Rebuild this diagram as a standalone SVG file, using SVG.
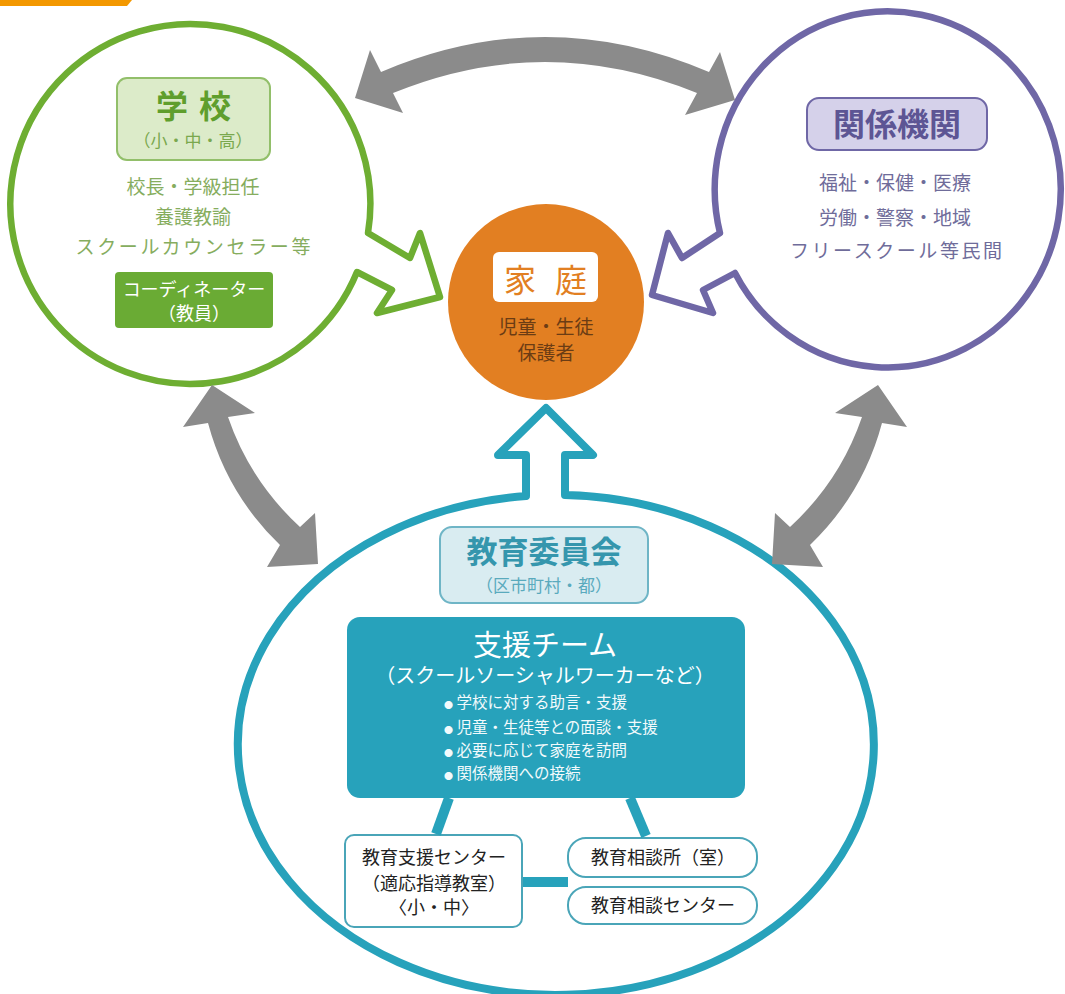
<svg xmlns="http://www.w3.org/2000/svg" width="1065" height="994" viewBox="0 0 1065 994">
<style>
text{font-family:"Noto Sans CJK JP","Noto Sans CJK SC",sans-serif;}
.c{text-anchor:middle}
.arrow{fill:#8b8b8b;stroke:none}
.tl{stroke:#27a2bb;stroke-width:10;fill:none}
.gtxt{fill:#86ad5e;font-size:19px}
.ptxt{fill:#6f6c9a;font-size:19px}
.btxt{fill:#222;font-size:18px}
.bul{fill:#f2fafc;font-size:15.5px}
.sbox{fill:#fff;stroke:#4aa5b8;stroke-width:2}
</style>
<rect x="0" y="0" width="1065" height="994" fill="#fff"/>
<polygon points="0,0 132,0 127,6 0,6" fill="#f39800"/>

<g id="school">
  <path d="M368,233 A180 180 0 1 0 357,272 L392,290 L377,313 L440,297 L420,233 L410,258 Z" fill="#fff" stroke="#6eae32" stroke-width="6.5" stroke-linejoin="round"/>
  <rect x="117" y="78" width="153" height="82" rx="10" fill="#dcebc9" stroke="#92bf6a" stroke-width="2"/>
  <text class="c" y="118" font-size="32" font-weight="bold" fill="#5f9e2c"><tspan x="172">学</tspan><tspan x="215">校</tspan></text>
  <text class="c" x="193" y="147" font-size="17" fill="#7aa84e">（小・中・高）</text>
  <text class="c gtxt" x="193" y="194">校長・学級担任</text>
  <text class="c gtxt" x="193" y="224">養護教諭</text>
  <text class="c gtxt" x="193" y="254" textLength="235">スクールカウンセラー等</text>
  <rect x="115" y="272" width="158" height="56" rx="4" fill="#6aab34"/>
  <text class="c" x="194" y="296" font-size="18" fill="#fff">コーディネーター</text>
  <text class="c" x="194" y="320" font-size="18" fill="#fff">（教員）</text>
</g>

<g id="agencies">
  <path d="M720,233 A173 178 0 1 1 735,273 L703,290 L713,313 L652,295 L668,233 L682,258 Z" fill="#fff" stroke="#6f67a6" stroke-width="6.5" stroke-linejoin="round"/>
  <rect x="807" y="98" width="180" height="52" rx="12" fill="#d5d1ea" stroke="#6f67a6" stroke-width="2"/>
  <text class="c" x="897" y="136" font-size="32" font-weight="bold" fill="#5d5594">関係機関</text>
  <text class="c ptxt" x="895" y="190">福祉・保健・医療</text>
  <text class="c ptxt" x="895" y="225">労働・警察・地域</text>
  <text class="c ptxt" x="896" y="258" textLength="212">フリースクール等民間</text>
</g>

<g id="home">
  <circle cx="546" cy="302" r="98" fill="#e27f22"/>
  <rect x="493" y="252" width="105" height="50" rx="6" fill="#fff"/>
  <text class="c" y="292" font-size="32" fill="#e27f22"><tspan x="520">家</tspan><tspan x="571">庭</tspan></text>
  <text class="c" x="546" y="334" font-size="19" fill="#6b3c14">児童・生徒</text>
  <text class="c" x="546" y="360" font-size="19" fill="#6b3c14">保護者</text>
</g>

<g id="board">
  <path d="M565,495 A318 250 0 1 1 526,496 L526,455 L498,455 L546,408 L593,455 L565,455 Z" fill="#fff" stroke="#27a2bb" stroke-width="8" stroke-linejoin="round"/>
  <rect x="440" y="527" width="208" height="76" rx="12" fill="#d9ecf1" stroke="#6fb5c6" stroke-width="2"/>
  <text class="c" x="544" y="563" font-size="31" font-weight="bold" fill="#3596ad">教育委員会</text>
  <text class="c" x="544" y="592" font-size="17" fill="#5aaabd">（区市町村・都）</text>
</g>

<g id="support-team">
  <rect x="347" y="617" width="398" height="181" rx="13" fill="#27a2bb"/>
  <text class="c" x="545" y="656" font-size="29" fill="#fff">支援チーム</text>
  <text class="c" x="545" y="683" font-size="20" fill="#fff">（スクールソーシャルワーカーなど）</text>
  <text class="bul" x="444" y="708"><tspan font-size="9">●</tspan> 学校に対する助言・支援</text>
  <text class="bul" x="444" y="733"><tspan font-size="9">●</tspan> 児童・生徒等との面談・支援</text>
  <text class="bul" x="444" y="756"><tspan font-size="9">●</tspan> 必要に応じて家庭を訪問</text>
  <text class="bul" x="444" y="779"><tspan font-size="9">●</tspan> 関係機関への接続</text>
</g>

<g id="support-center">
  <rect class="sbox" x="345" y="835" width="177" height="92" rx="9"/>
  <text class="c btxt" x="434" y="864">教育支援センター</text>
  <text class="c btxt" x="434" y="890">（適応指導教室）</text>
  <text class="c btxt" x="434" y="914">〈小・中〉</text>
</g>

<g id="consultation-office">
  <rect class="sbox" x="568" y="838" width="189" height="39" rx="18"/>
  <text class="c btxt" x="663" y="864">教育相談所（室）</text>
</g>

<g id="consultation-center">
  <rect class="sbox" x="568" y="887" width="189" height="37" rx="18"/>
  <text class="c btxt" x="663" y="912">教育相談センター</text>
</g>

<g id="connectors">
  <path class="arrow" d="M355,98 L370,50 L381,72 Q545,2 709,72 L720,52 L735,100 L685,115 L697,93 Q545,31 393,93 L403,113 Z"/>
  <path class="arrow" d="M212,385 L255,413 L228,417 Q250,481 300,527 L315,513 L318,564 L267,567 L280,545 Q227,494 208,423 L183,427 Z"/>
  <path class="arrow" d="M878,385 L835,413 L862,417 Q840,481 790,527 L775,513 L772,564 L823,567 L810,545 Q863,494 882,423 L907,427 Z"/>
  <line class="tl" x1="449" y1="798" x2="436" y2="834"/>
  <line class="tl" x1="630" y1="798" x2="646" y2="836"/>
  <line class="tl" x1="523" y1="882" x2="568" y2="882"/>
</g>
</svg>
